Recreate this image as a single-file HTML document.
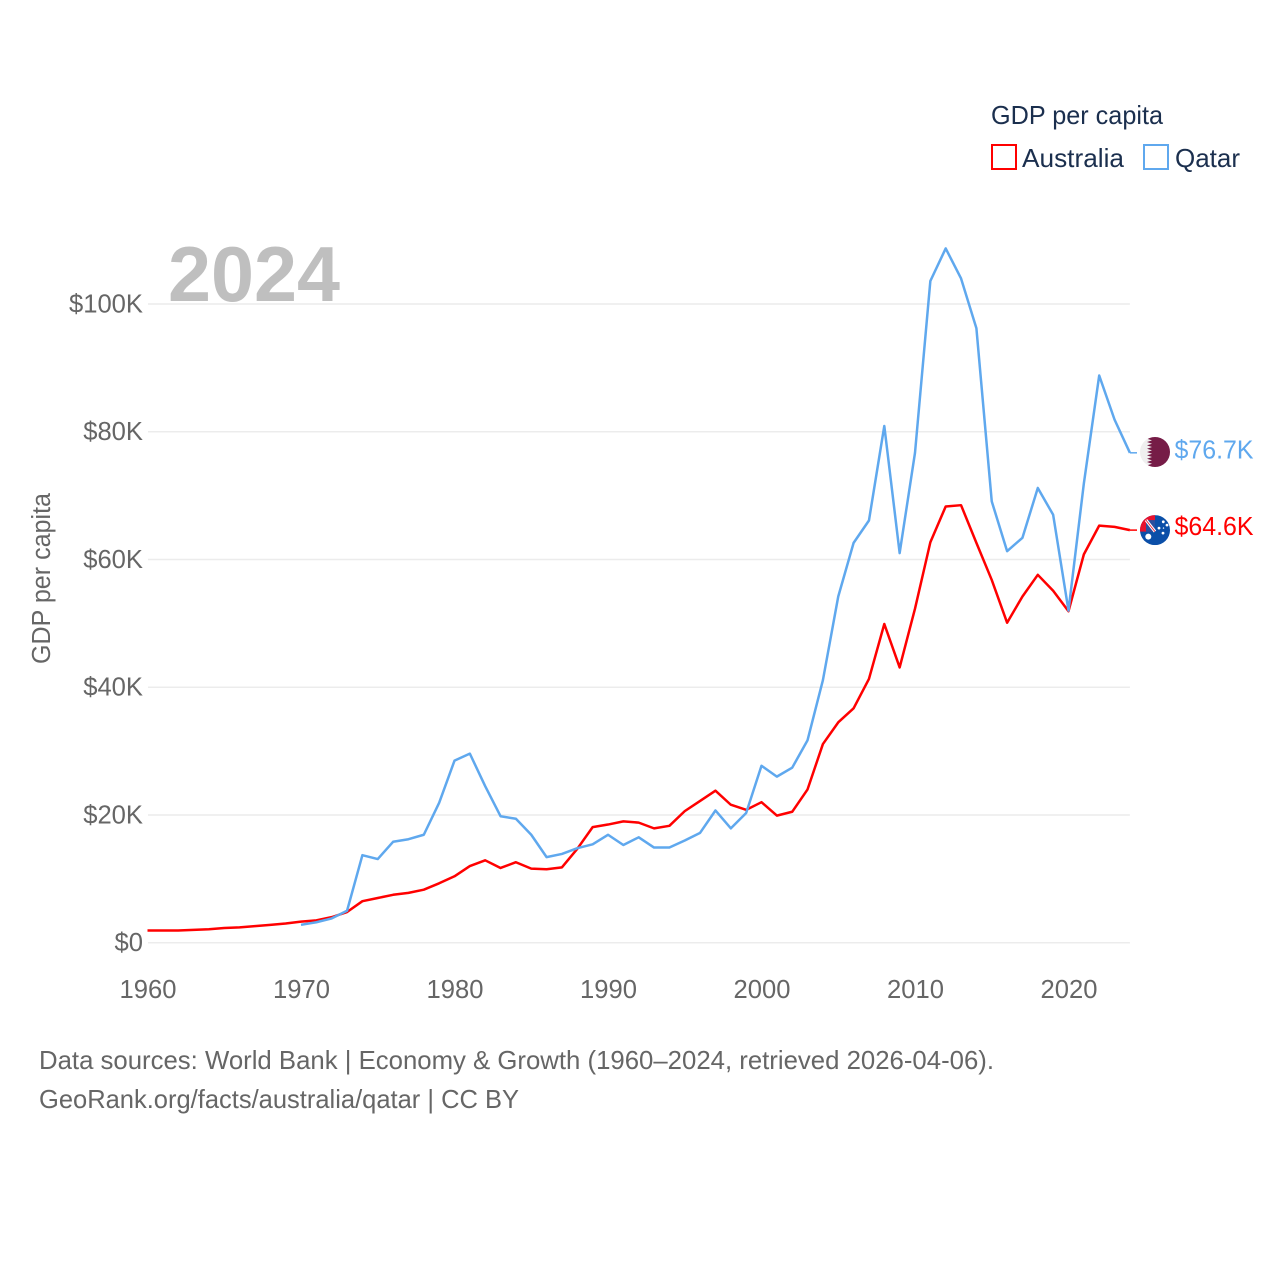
<!DOCTYPE html>
<html lang="en">
<head>
<meta charset="utf-8">
<title>GDP per capita: Australia and Qatar</title>
<style>
html,body{margin:0;padding:0;background:#fff;}
svg{display:block;font-family:"Liberation Sans",sans-serif;}
</style>
</head>
<body>
<svg id="chart" xmlns="http://www.w3.org/2000/svg" width="1280" height="1280" viewBox="0 0 1280 1280">
  <defs>
    <clipPath id="flag-clip"><circle cx="0" cy="0" r="15"/></clipPath>
  </defs>
  <g id="grid"></g>
  <g id="y-ticks"></g>
  <g id="x-ticks"></g>

  <text x="168" y="301" font-size="78" font-weight="700" fill="#bfbfbf" textLength="172" lengthAdjust="spacingAndGlyphs">2024</text>
  <text transform="translate(50 664) rotate(-90)" font-size="25.5" fill="#666666" textLength="171" lengthAdjust="spacingAndGlyphs">GDP per capita</text>

  <g>
    <text x="991" y="124" font-size="26" fill="#1b2f4e" textLength="172" lengthAdjust="spacingAndGlyphs">GDP per capita</text>
    <rect x="992" y="145" width="24" height="24" fill="none" stroke="#ff0000" stroke-width="2"/>
    <text x="1022" y="167" font-size="26" fill="#1b2f4e" textLength="102" lengthAdjust="spacingAndGlyphs">Australia</text>
    <rect x="1144" y="145" width="24" height="24" fill="none" stroke="#5fa8ee" stroke-width="2"/>
    <text x="1175" y="167" font-size="26" fill="#1b2f4e" textLength="65" lengthAdjust="spacingAndGlyphs">Qatar</text>
  </g>

  <g id="series"></g>

  <g id="flag-qatar">
    <g clip-path="url(#flag-clip)">
      <rect x="-15" y="-15" width="30" height="30" fill="#efefef"/>
      <polygon fill="#761c47" points="15,-15 -3,-15 -8,-13.3 -3,-11.7 -8,-10 -3,-8.3 -8,-6.7 -3,-5 -8,-3.3 -3,-1.7 -8,0 -3,1.7 -8,3.3 -3,5 -8,6.7 -3,8.3 -8,10 -3,11.7 -8,13.3 -3,15 15,15"/>
    </g>
  </g>
  <g id="flag-australia">
    <g clip-path="url(#flag-clip)">
      <rect x="-15" y="-15" width="30" height="30" fill="#0b4fa8"/>
      <rect x="-15" y="-15" width="15" height="16.5" fill="#e8112d"/>
      <rect x="-9" y="-10" width="9" height="11.5" fill="#2a4f9e"/>
      <line x1="-9" y1="-10" x2="0" y2="1.5" stroke="#ffffff" stroke-width="3"/>
      <line x1="-9" y1="-10" x2="0" y2="1.5" stroke="#e8112d" stroke-width="0.8"/>
      <circle cx="-6.7" cy="6.5" r="3" fill="#fff"/>
      <circle cx="8.3" cy="-8.3" r="1.4" fill="#fff"/>
      <circle cx="4" cy="-2" r="1.4" fill="#fff"/>
      <circle cx="12" cy="-5" r="1.4" fill="#fff"/>
      <circle cx="8" cy="3" r="1.4" fill="#fff"/>
      <circle cx="8.5" cy="-2" r="0.7" fill="#fff"/>
    </g>
  </g>
  <g id="end-labels"></g>

  <g>
    <text x="39" y="1069" font-size="26" fill="#666666" textLength="955" lengthAdjust="spacingAndGlyphs">Data sources: World Bank | Economy &amp; Growth (1960–2024, retrieved 2026-04-06).</text>
    <text x="39" y="1108" font-size="26" fill="#666666" textLength="480" lengthAdjust="spacingAndGlyphs">GeoRank.org/facts/australia/qatar | CC BY</text>
  </g>
</svg>
<script>
const xTickYears = [1960, 1970, 1980, 1990, 2000, 2010, 2020];
const yTickValues = [0, 20, 40, 60, 80, 100];
const yTickLabels = ["$0", "$20K", "$40K", "$60K", "$80K", "$100K"];

const australiaStartYear = 1960;
const australiaValues = [1.9, 1.9, 1.9, 2.0, 2.1, 2.3, 2.4, 2.6, 2.8, 3.0, 3.3, 3.5, 4.0, 4.8, 6.5, 7.0, 7.5, 7.8, 8.3, 9.3, 10.4, 12.0, 12.9, 11.7, 12.6, 11.6, 11.5, 11.8, 14.7, 18.1, 18.5, 19.0, 18.8, 17.9, 18.3, 20.6, 22.2, 23.8, 21.6, 20.8, 22.0, 19.9, 20.5, 24.0, 31.1, 34.5, 36.7, 41.3, 49.9, 43.1, 52.3, 62.7, 68.3, 68.5, 62.6, 56.8, 50.1, 54.2, 57.6, 55.1, 51.9, 60.8, 65.3, 65.1, 64.6];
const qatarStartYear = 1970;
const qatarValues = [2.8, 3.2, 3.8, 5.0, 13.7, 13.1, 15.8, 16.2, 16.9, 21.9, 28.5, 29.6, 24.5, 19.8, 19.4, 16.9, 13.4, 13.9, 14.8, 15.4, 16.9, 15.3, 16.5, 14.9, 14.9, 16.0, 17.2, 20.7, 17.9, 20.3, 27.7, 26.0, 27.4, 31.7, 41.1, 54.2, 62.6, 66.1, 80.9, 61.0, 76.7, 103.6, 108.7, 104.0, 96.2, 69.1, 61.3, 63.4, 71.2, 67.0, 52.0, 71.9, 88.8, 81.9, 76.7];
const australiaEndLabel = "$64.6K";
const qatarEndLabel = "$76.7K";

const SVG_NS = "http://www.w3.org/2000/svg";
const xScale = function (year) { return 147.5 + (year - 1960) * 15.35; };
const yScale = function (value) { return 942.7 - value * 6.387; };
const plotRight = xScale(2024);

function make(tag, parent) {
  const el = document.createElementNS(SVG_NS, tag);
  parent.appendChild(el);
  return el;
}

const gridGroup = document.getElementById("grid");
const yTickGroup = document.getElementById("y-ticks");
yTickValues.forEach(function (value, i) {
  const line = make("line", gridGroup);
  
  
  line.setAttribute("x1", 148);
  line.setAttribute("x2", plotRight);
  line.setAttribute("y1", yScale(value));
  line.setAttribute("y2", yScale(value));
  line.setAttribute("stroke", "#ececec");
  line.setAttribute("stroke-width", "1.5");
  const label = make("text", yTickGroup);
  
  
  label.setAttribute("x", 143);
  label.setAttribute("y", yScale(value) + 8.3);
  label.setAttribute("text-anchor", "end");
  label.setAttribute("font-size", "25.6");
  label.setAttribute("fill", "#666666");
  label.textContent = yTickLabels[i];
});

const xTickGroup = document.getElementById("x-ticks");
xTickYears.forEach(function (year) {
  const label = make("text", xTickGroup);
  
  
  label.setAttribute("x", xScale(year) + 0.5);
  label.setAttribute("y", 998);
  label.setAttribute("text-anchor", "middle");
  label.setAttribute("font-size", "25.6");
  label.setAttribute("fill", "#666666");
  label.textContent = year;
});

const seriesGroup = document.getElementById("series");
function seriesPoints(values, startYear) {
  return values.map(function (value, i) {
    return xScale(startYear + i).toFixed(2) + "," + yScale(value).toFixed(2);
  }).join(" ");
}

const australiaLine = make("polyline", seriesGroup);


australiaLine.setAttribute("points", seriesPoints(australiaValues, australiaStartYear));
australiaLine.setAttribute("fill", "none");
australiaLine.setAttribute("stroke", "#ff0000");
australiaLine.setAttribute("stroke-width", "2.5");
australiaLine.setAttribute("stroke-linejoin", "round");

const qatarLine = make("polyline", seriesGroup);


qatarLine.setAttribute("points", seriesPoints(qatarValues, qatarStartYear));
qatarLine.setAttribute("fill", "none");
qatarLine.setAttribute("stroke", "#5fa8ee");
qatarLine.setAttribute("stroke-width", "2.5");
qatarLine.setAttribute("stroke-linejoin", "round");

const qatarEnd = yScale(qatarValues[qatarValues.length - 1]);
const australiaEnd = yScale(australiaValues[australiaValues.length - 1]);

const qatarConnector = make("line", seriesGroup);


qatarConnector.setAttribute("x1", plotRight);
qatarConnector.setAttribute("x2", 1137);
qatarConnector.setAttribute("y1", qatarEnd);
qatarConnector.setAttribute("y2", qatarEnd);
qatarConnector.setAttribute("stroke", "#5fa8ee");
qatarConnector.setAttribute("stroke-width", "1.5");

const australiaConnector = make("line", seriesGroup);


australiaConnector.setAttribute("x1", plotRight);
australiaConnector.setAttribute("x2", 1137);
australiaConnector.setAttribute("y1", australiaEnd);
australiaConnector.setAttribute("y2", australiaEnd);
australiaConnector.setAttribute("stroke", "#ff0000");
australiaConnector.setAttribute("stroke-width", "1.5");

document.getElementById("flag-qatar").setAttribute("transform", "translate(1155 " + (qatarEnd - 0.8) + ")");
document.getElementById("flag-australia").setAttribute("transform", "translate(1155 " + australiaEnd + ")");

const endGroup = document.getElementById("end-labels");
const qatarEndText = make("text", endGroup);


qatarEndText.setAttribute("x", 1174.5);
qatarEndText.setAttribute("y", qatarEnd + 5.5);
qatarEndText.setAttribute("font-size", "25.6");
qatarEndText.setAttribute("fill", "#5fa8ee");
qatarEndText.setAttribute("textLength", "79");
qatarEndText.setAttribute("lengthAdjust", "spacingAndGlyphs");
qatarEndText.textContent = qatarEndLabel;

const australiaEndText = make("text", endGroup);


australiaEndText.setAttribute("x", 1174.5);
australiaEndText.setAttribute("y", australiaEnd + 5);
australiaEndText.setAttribute("font-size", "25.6");
australiaEndText.setAttribute("fill", "#ff0000");
australiaEndText.setAttribute("textLength", "79");
australiaEndText.setAttribute("lengthAdjust", "spacingAndGlyphs");
australiaEndText.textContent = australiaEndLabel;
</script>
</body>
</html>
